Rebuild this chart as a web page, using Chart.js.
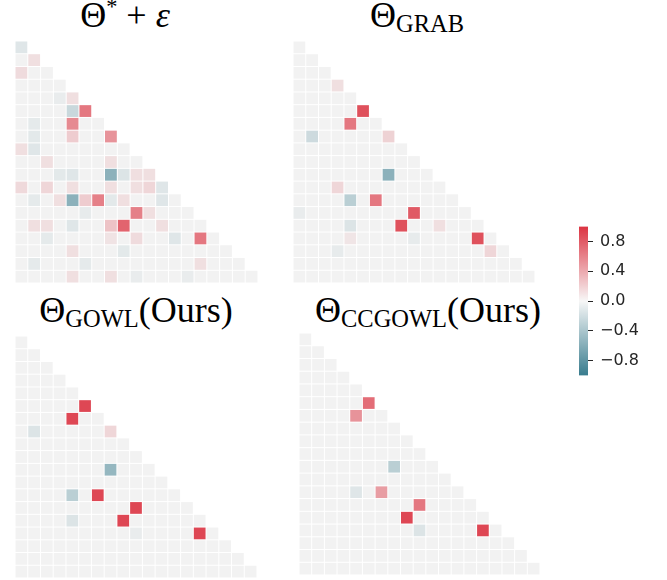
<!DOCTYPE html>
<html>
<head>
<meta charset="utf-8">
<script src="https://cdn.jsdelivr.net/npm/chart.js@4.4.1/dist/chart.umd.min.js"></script>
<style>
  body { margin: 0; background: #fff; }
  #wrap { position: relative; width: 667px; height: 580px; overflow: hidden; }
  canvas { position: absolute; }
  .title {
    position: absolute; text-align: center; white-space: nowrap; line-height: 1;
    font-family: 'Liberation Serif', serif; font-size: 36px; color: #000;
  }
  .title sub { font-size: 0.68em; vertical-align: -0.22em; line-height: 0; }
  .title sup { font-size: 0.62em; vertical-align: 0.6em; line-height: 0; }
</style>
</head>
<body>
<div id="wrap">
  <div class="title" style="left:5px;width:240px;top:-3px;">Θ<sup>*</sup> + <i>ε</i></div>
  <div class="title" style="left:297px;width:240px;top:-3px;">Θ<sub>GRAB</sub></div>
  <div class="title" style="left:6px;width:260px;top:292px;">Θ<sub>GOWL</sub>(Ours)</div>
  <div class="title" style="left:293px;width:270px;top:292px;">Θ<sub>CCGOWL</sub>(Ours)</div>

  <canvas id="noisy" width="243" height="242" style="left:15px;top:41px;"></canvas>
  <canvas id="grab" width="242" height="242" style="left:293px;top:41px;"></canvas>
  <canvas id="gowl" width="242" height="242" style="left:15px;top:336px;"></canvas>
  <canvas id="ccgowl" width="241" height="242" style="left:299px;top:333px;"></canvas>
  <canvas id="cbar" width="88" height="182" style="left:579px;top:210px;"></canvas>
</div>
<script>
// matrix size (lower triangle shown, diagonal masked)
const SIZE = 19;

// [row, col, value] for the non-zero cells of each estimate
const noisyCells = [
  [0,0,-0.1],
  [1,1,0.1],
  [2,0,0.12],
  [4,3,-0.05],[4,4,0.1],
  [5,4,-0.22],[5,5,0.65],
  [6,1,-0.07],[6,4,0.55],
  [7,1,-0.08],[7,4,0.2],[7,7,0.5],
  [8,0,0.1],[8,1,-0.1],
  [9,2,0.1],[9,7,0.1],
  [10,3,-0.08],[10,4,-0.1],[10,7,-0.55],[10,8,-0.12],[10,9,0.1],[10,10,0.1],
  [11,0,0.13],[11,2,0.15],[11,4,0.1],[11,7,0.1],[11,9,0.1],[11,10,0.15],[11,11,-0.1],
  [12,1,-0.07],[12,3,0.1],[12,4,-0.55],[12,5,0.2],[12,6,0.6],[12,7,-0.08],[12,8,0.1],[12,11,-0.1],
  [13,5,-0.06],[13,9,0.6],[13,10,0.1],
  [14,1,0.1],[14,2,0.1],[14,4,-0.1],[14,7,0.25],[14,8,0.75],[14,11,0.1],
  [15,2,-0.07],[15,7,0.08],[15,9,0.12],[15,12,-0.1],[15,14,0.65],
  [16,4,0.1],[16,8,-0.08],
  [17,1,-0.07],[17,5,-0.07],[17,14,0.1],
  [18,4,0.1],[18,7,0.1],[18,9,-0.05],[18,13,-0.05]
];

const grabCells = [
  [3,3,0.1],
  [5,5,0.85],
  [6,4,0.65],
  [7,1,-0.2],[7,7,0.17],
  [10,7,-0.55],
  [11,3,0.15],
  [12,4,-0.3],[12,6,0.65],
  [13,0,-0.05],[13,9,0.8],
  [14,4,-0.12],[14,8,0.85],[14,11,0.1],
  [15,4,0.07],[15,9,-0.06],[15,14,0.85],
  [16,3,-0.06],[16,15,0.15]
];

const gowlCells = [
  [5,5,0.9],
  [6,4,0.9],
  [7,1,-0.12],[7,7,0.15],
  [10,7,-0.5],
  [12,4,-0.3],[12,6,0.9],
  [13,9,0.9],
  [14,4,-0.12],[14,8,0.9],
  [15,9,-0.05],[15,14,0.9]
];

const ccgowlCells = [
  [5,5,0.7],
  [6,4,0.5],
  [10,7,-0.3],
  [12,4,-0.1],[12,6,0.45],
  [13,9,0.65],
  [14,8,0.9],
  [15,9,-0.12],[15,14,0.9]
];

const cbarTicks = [-0.8, -0.4, 0, 0.4, 0.8];

// diverging palette: teal -> light gray -> red
const NEG = [56, 124, 142];
const MID = [242, 242, 242];
const POS = [220, 52, 66];

function cmap(v) {
  const t = Math.max(-1, Math.min(1, v));
  const end = t < 0 ? NEG : POS;
  const a = Math.abs(t);
  const c = MID.map((m, i) => Math.round(m + (end[i] - m) * a));
  return 'rgb(' + c.join(',') + ')';
}

function buildPoints(cells) {
  const lookup = {};
  cells.forEach(([r, c, v]) => { lookup[r + ',' + c] = v; });
  const pts = [];
  for (let r = 0; r < SIZE; r++) {
    for (let c = 0; c <= r; c++) {
      pts.push({ x: c, y: r, v: lookup[r + ',' + c] || 0 });
    }
  }
  return pts;
}

function cellRadius(chart) {
  const sx = chart.scales.x;
  const w = Math.abs(sx.getPixelForValue(1) - sx.getPixelForValue(0));
  return (w - 1) / Math.SQRT2;
}

function heatmap(id, cells) {
  new Chart(document.getElementById(id), {
    type: 'scatter',
    data: {
      datasets: [{
        data: buildPoints(cells),
        pointStyle: 'rect',
        pointRadius: ctx => cellRadius(ctx.chart),
        pointHoverRadius: ctx => cellRadius(ctx.chart),
        pointBackgroundColor: ctx => ctx.raw ? cmap(ctx.raw.v) : cmap(0),
        pointBorderWidth: 0
      }]
    },
    options: {
      responsive: false,
      animation: false,
      events: [],
      layout: { padding: 0 },
      plugins: { legend: { display: false }, tooltip: { enabled: false } },
      scales: {
        x: { type: 'linear', min: -0.5, max: SIZE - 0.5, display: false },
        y: { type: 'linear', min: -0.5, max: SIZE - 0.5, reverse: true, display: false }
      }
    }
  });
}

heatmap('noisy', noisyCells);
heatmap('grab', grabCells);
heatmap('gowl', gowlCells);
heatmap('ccgowl', ccgowlCells);

// colour bar
function fmt(v) {
  const s = Math.abs(v).toFixed(1);
  return v < 0 ? '\u2212' + s : s;
}

new Chart(document.getElementById('cbar'), {
  type: 'bar',
  data: {
    labels: [''],
    datasets: [{
      data: [[-1, 1]],
      barPercentage: 1,
      categoryPercentage: 1,
      borderWidth: 0,
      backgroundColor: ctx => {
        const area = ctx.chart.chartArea;
        if (!area) return cmap(0);
        const g = ctx.chart.ctx.createLinearGradient(0, area.bottom, 0, area.top);
        g.addColorStop(0, cmap(-1));
        g.addColorStop(0.5, 'rgb(247,247,247)');
        g.addColorStop(1, cmap(1));
        return g;
      }
    }]
  },
  options: {
    responsive: false,
    animation: false,
    events: [],
    layout: { padding: { top: 9, bottom: 9, left: 0, right: 0 } },
    plugins: { legend: { display: false }, tooltip: { enabled: false } },
    scales: {
      x: { display: false },
      y: {
        position: 'right',
        min: -1,
        max: 1,
        afterBuildTicks: s => { s.ticks = cbarTicks.map(v => ({ value: v })); },
        afterFit: s => { s.width = 79; },
        border: { display: false },
        grid: { drawOnChartArea: false, drawTicks: true, tickLength: 5, color: '#262626' },
        ticks: {
          padding: 7,
          color: '#262626',
          font: { family: 'DejaVu Sans', size: 16 },
          callback: v => fmt(v)
        }
      }
    }
  }
});
</script>
</body>
</html>
